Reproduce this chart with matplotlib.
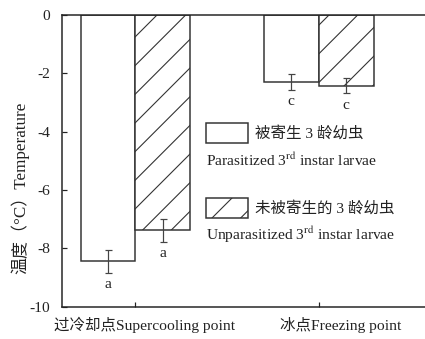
import matplotlib
matplotlib.use("Agg")
import matplotlib.pyplot as plt
from matplotlib.patches import Rectangle
from matplotlib.transforms import ScaledTranslation
import numpy as np

categories = ["过冷却点Supercooling point", "冰点Freezing point"]
parasitized = [-8.45, -2.29]
parasitized_err = [0.38, 0.27]
unparasitized = [-7.38, -2.42]
unparasitized_err = [0.40, 0.27]
letters_par = ["a", "c"]
letters_unpar = ["a", "c"]
legend_labels_cn = ["被寄生 3 龄幼虫", "未被寄生的 3 龄幼虫"]
legend_labels_en = ["Parasitized 3$^{\\mathrm{rd}}$ instar larvae",
                    "Unparasitized 3$^{\\mathrm{rd}}$ instar larvae"]
ylabel = "温度（°C）Temperature"
yticks = [0, -2, -4, -6, -8, -10]

DPI = 172
def px(v):
    return v * 72.0 / DPI

plt.rcParams['font.family'] = ['Liberation Serif', 'Noto Sans CJK SC']
plt.rcParams['mathtext.fontset'] = 'stix'
plt.rcParams['axes.unicode_minus'] = False
plt.rcParams['hatch.linewidth'] = px(1.1)
plt.rcParams['hatch.color'] = '#222222'

fs = px(15.5)
edge = '#333333'

fig = plt.figure(figsize=(425 / DPI, 339 / DPI), dpi=DPI)
ax = fig.add_axes([62 / 425, (339 - 306.7) / 339, 1 - 62 / 425, (306.7 - 15) / 339])

x = np.arange(len(categories))
w = 0.30
ax.bar(x - w / 2, parasitized, w, color='white', edgecolor=edge, linewidth=px(1.5), zorder=2)
ax.bar(x + w / 2, unparasitized, w, color='white', edgecolor=edge, linewidth=px(1.5),
       hatch='//', zorder=2)
ax.errorbar(x - w / 2, parasitized, yerr=parasitized_err, fmt='none', ecolor='#444444',
            elinewidth=px(1.2), capsize=px(3.5), capthick=px(1.2), zorder=3)
ax.errorbar(x + w / 2, unparasitized, yerr=unparasitized_err, fmt='none', ecolor='#444444',
            elinewidth=px(1.2), capsize=px(3.5), capthick=px(1.2), zorder=3)

for xi, v, e, t in zip(x - w / 2, parasitized, parasitized_err, letters_par):
    ax.annotate(t, (xi, v - e), xytext=(0, -px(12)), textcoords='offset points',
                ha='center', va='center', fontsize=fs, color='#222222')
for xi, v, e, t in zip(x + w / 2, unparasitized, unparasitized_err, letters_unpar):
    ax.annotate(t, (xi, v - e), xytext=(0, -px(12)), textcoords='offset points',
                ha='center', va='center', fontsize=fs, color='#222222')

ax.set_xlim(-0.401, 1.580)
ax.set_ylim(-10, 0)
ax.set_yticks(yticks)
ax.set_yticklabels([str(t) for t in yticks])
ax.set_xticks(x)
ax.set_xticklabels(categories)
ax.tick_params(axis='both', direction='in', length=px(5), width=px(1.2), colors='#222222',
               labelsize=fs)
ax.tick_params(axis='y', pad=px(12))
ax.tick_params(axis='x', pad=px(10))
label_shift_px = [9, 21.5]
for lab, dx in zip(ax.get_xticklabels(), label_shift_px):
    lab.set_transform(lab.get_transform() + ScaledTranslation(dx / DPI, 0, fig.dpi_scale_trans))

ax.spines['right'].set_visible(False)
for s in ['left', 'top', 'bottom']:
    ax.spines[s].set_linewidth(px(1.5))
    ax.spines[s].set_color('#222222')

ax.text(-0.116, 0.407, ylabel, transform=ax.transAxes, rotation=90,
        ha='center', va='center', fontsize=px(17), color='#222222')

# legend
box_y = [0.561, 0.304]
hatches = [None, '//']
for by, h, cn, en in zip(box_y, hatches, legend_labels_cn, legend_labels_en):
    ax.add_patch(Rectangle((0.397, by), 0.116, 0.0686, transform=ax.transAxes,
                           facecolor='white', edgecolor=edge, linewidth=px(1.5),
                           hatch=h, zorder=4))
    ax.text(0.532, by + 0.034, cn, transform=ax.transAxes, ha='left', va='center',
            fontsize=fs, color='#222222')
    ax.text(0.397, by - 0.058, en, transform=ax.transAxes, ha='left', va='center',
            fontsize=fs, color='#222222')

fig.savefig("out.png", dpi=DPI)
